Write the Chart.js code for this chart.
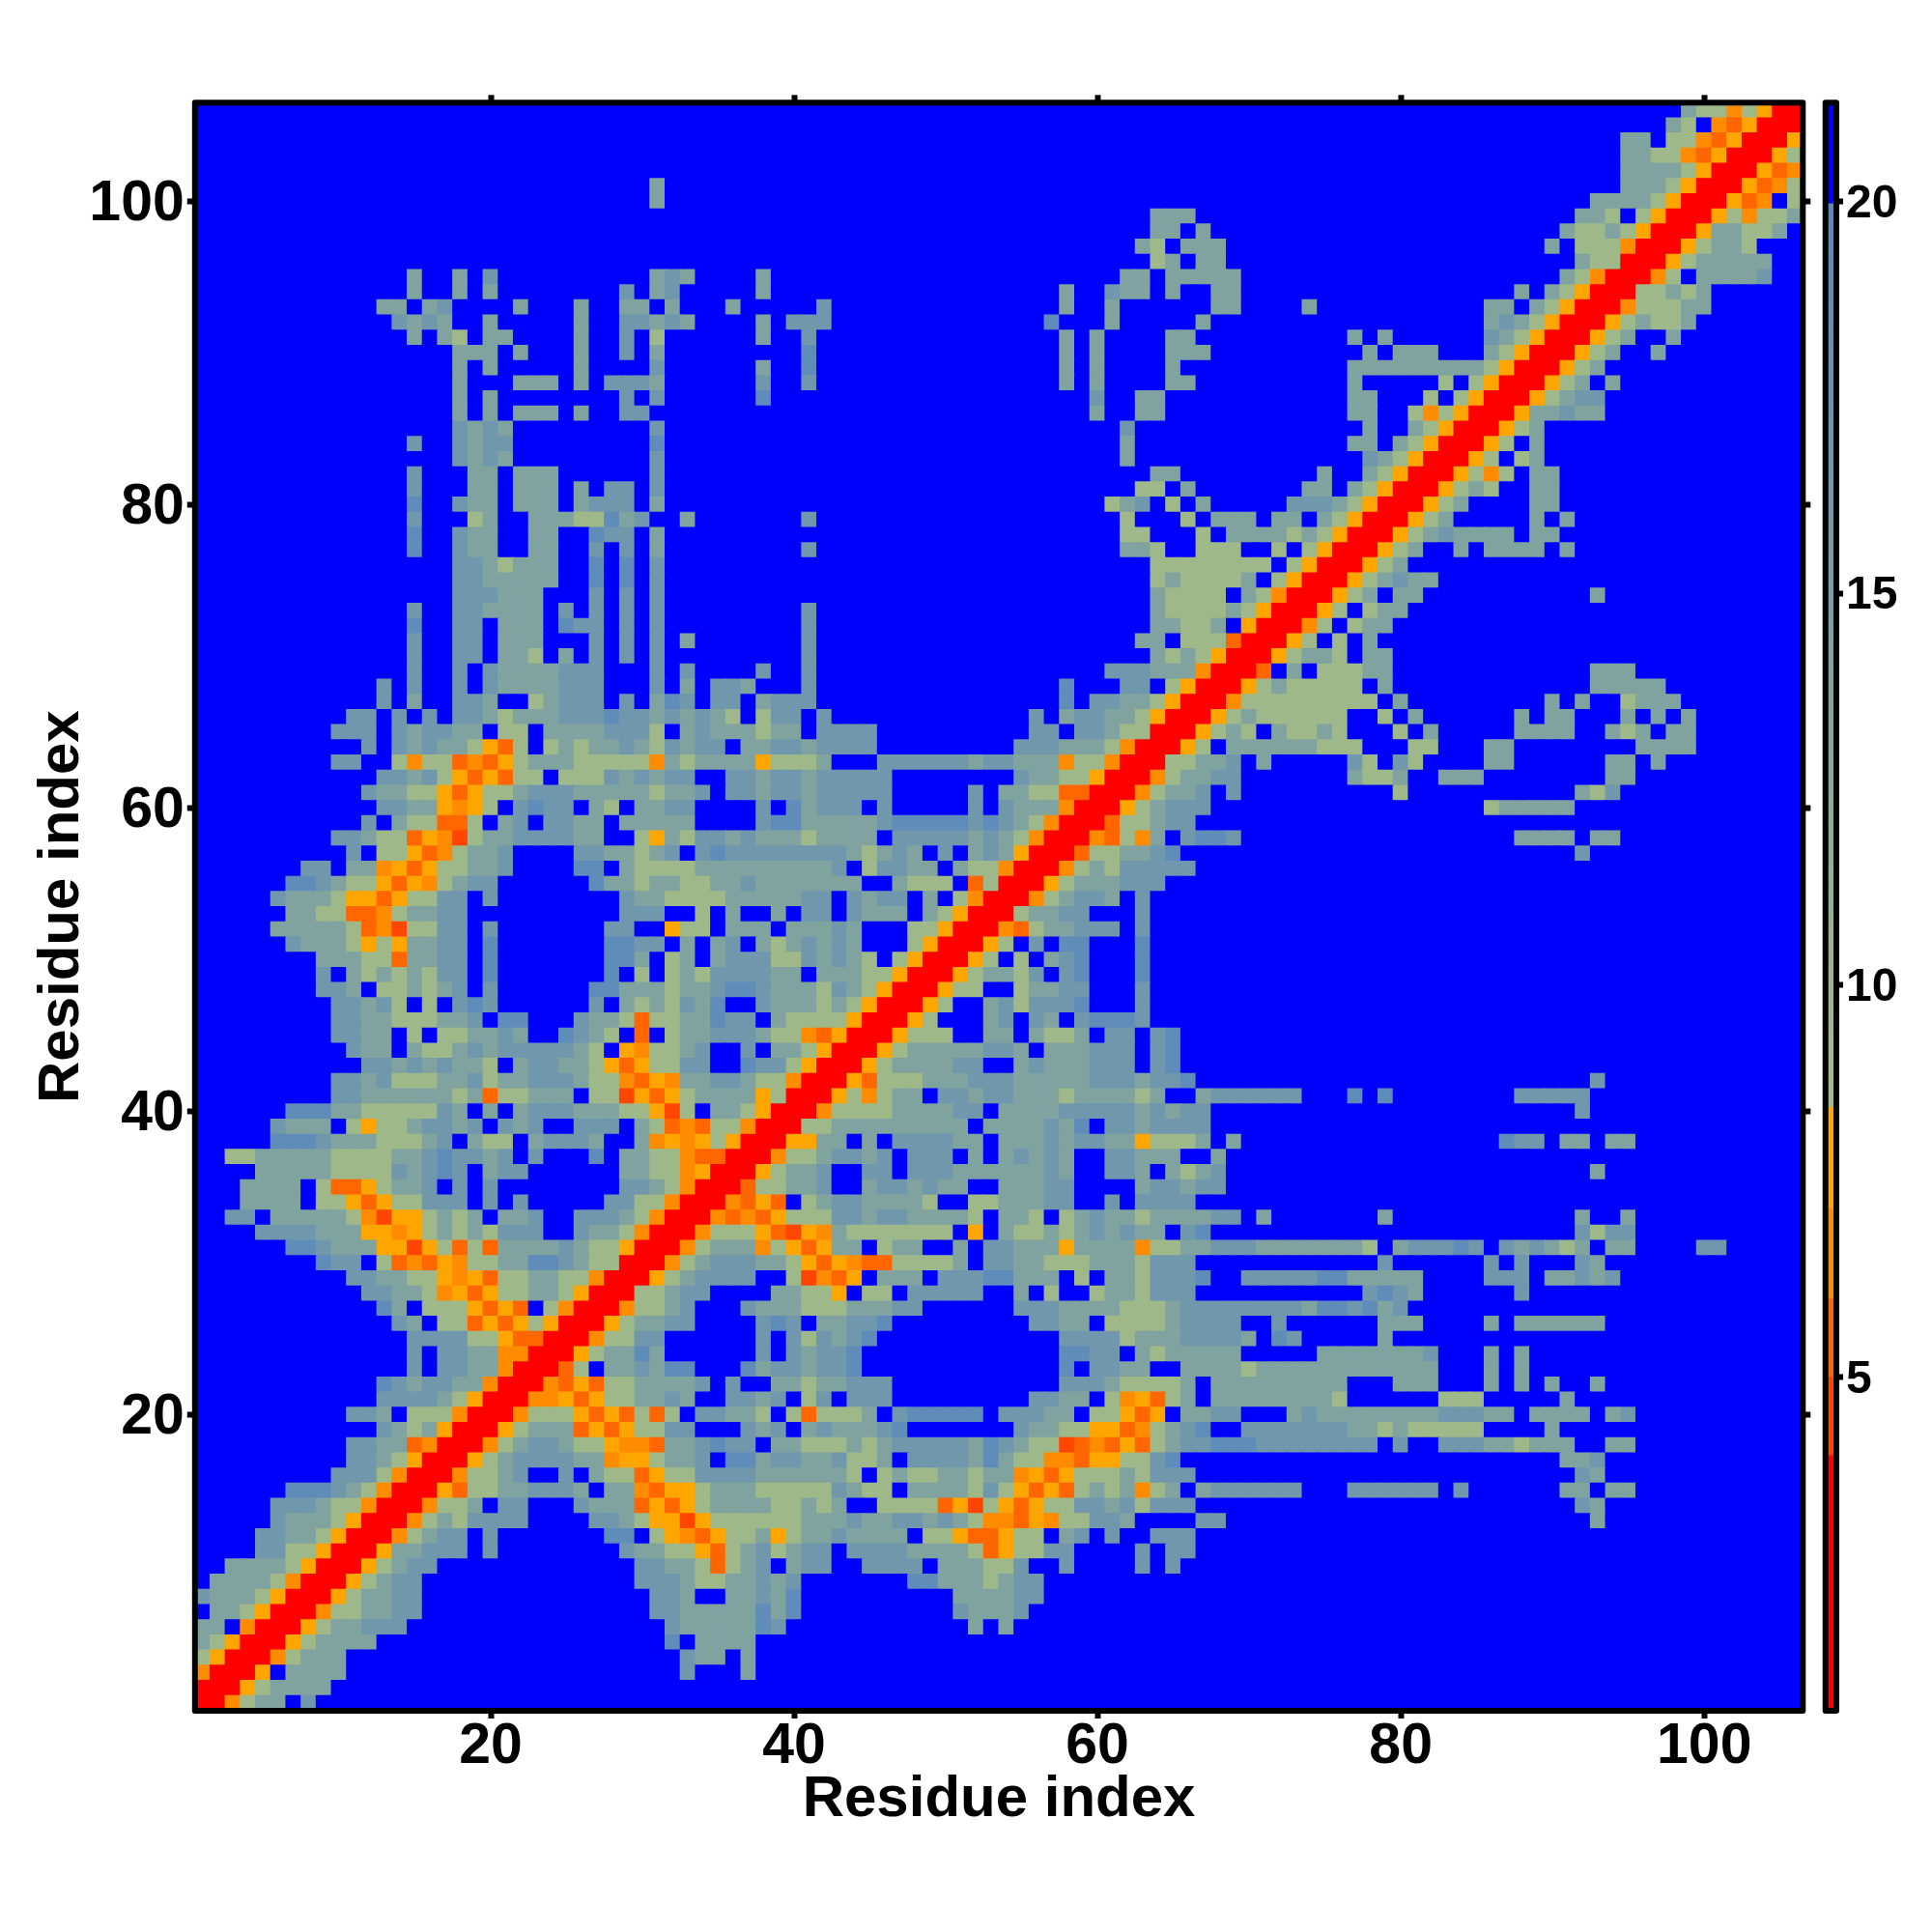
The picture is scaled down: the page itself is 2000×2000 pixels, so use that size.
<!DOCTYPE html>
<html>
<head>
<meta charset="utf-8">
<title>Residue distance map</title>
<script src="https://cdn.jsdelivr.net/npm/chart.js@4"></script>
<style>
html,body{margin:0;padding:0;background:#fff}
#wrap{position:relative;width:2000px;height:2000px}
canvas{position:absolute;left:0;top:0}
</style>
</head>
<body>
<div id="wrap"><canvas id="map" width="2000" height="2000"></canvas><canvas id="bar" width="2000" height="2000"></canvas></div>
<script>
// Each line is one row of the map, from residue 106 (top) down to residue 1.
// "31hg" = starting at residue 31: a cell of class h, then a cell of class g. Unlisted cells are class "n".
const rowCodes = [
"99hssdsorr",
"98hs 101deorrr",
"95hh 98ssdeorrro",
"95hhssdeorrros",
"95hhhhsorrroed",
"31h 95hhhsorrroeds",
"31h 93hhhhsorrroed 106s",
"64hhh 92hhs 96sorrrosdssh",
"64hh 67h 91hsshsorrrohhssh",
"63hs 66hhh 90h 92sssdrrroshhs",
"64sh 67hh 92hssrrroshhhhh",
"15h 18h 20g 31hgh 38h 62hh 65hhhhh 91hsdrrrds 100hhhhg",
"15h 18h 20h 29g 31hg 38h 58h 61ghh 65h 68hh 88h 90hsorrrsshsh",
"13hh 16hg 22h 26h 29hh 32h 36h 42g 58h 61h 68hh 74h 86hh 89hsorrrdssshh",
"14ghgh 20h 26h 29gghgh 38h 40ggg 57b 61h 67h 86hghsorrroshssh",
"15h 17hs 20hh 26h 29g 31s 38h 41g 58h 60h 65hh 77h 79h 86ghsorrrosh 98h",
"18hhh 22h 26h 29g 31h 41b 58h 60h 65hhh 78h 80hhh 86hsorrrosh 97h",
"18h 20h 26h 31g 38h 41b 58h 60h 65h 77hhhhhhhhhsorrrosh",
"18h 22hhh 26h 28ggg 31h 38g 41g 58h 60h 65hh 77h 83s 85sorrrosh 94h",
"18h 20h 29g 31g 38b 60g 63hh 77hh 82s 84sorrroshgg",
"18h 20h 22hhh 26h 29gg 60h 63hh 77hh 81sdsorrrohhghh",
"18ghgh 31g 62g 78h 81hsorrrosh",
"15g 18ghgg 31b 62h 77hh 80hsorrros 89h",
"18ghgh 31g 62h 78ghsorrros 88sh",
"15g 19hh 22hhh 31g 64hh 75h 78hsorrrosds 89hh",
"15g 19hh 22hhh 26h 28gg 31g 63ss 66h 74hh 77hsorrroshs 89hh",
"15b 18ghh 22hhh 26hggg 31h 61shg 65s 67h 73ggghsorrrosh 89hh",
"15g 19sh 23hhhssbhg 33h 41g 62s 66s 68hhh 72hh 75hsorrrosh 89h 91h",
"15b 18ghh 23hh 27bgg 31h 62ss 67s 69hhhhshsorrroshghhhh 89hh",
"15b 18ghh 23hh 27g 29g 31h 41g 62hhs 67sss 72s 74sorrrosh 84h 86hhhh 91h",
"18gghshhh 27b 29b 31g 64ssssssss 73sorrrosh",
"18gghhhhh 27b 29b 31g 64shssssh 72sorrroshghh",
"18ggghhh 27g 29g 31g 64hssss 70hsdrrrosh 80hh 93h",
"15g 18gghhhh 25g 27g 29g 31g 41g 64hsssshsorrros 78shh",
"15b 18gg 21hhh 25bgg 29g 31g 41g 64hhssh 70orrrds 77shh",
"15g 18gg 21hhh 27g 29g 31g 33h 41g 63hh 66ssserrros 76s 78h",
"15g 18gg 21hhs 25h 27g 29g 31g 41g 64hshsorrroshhs 78hh",
"15g 18g 20ghhhhggg 31g 33g 38g 41g 61ggghhhdrrre 73h 75ssshh 93hhh",
"13g 15g 18g 20ghhhhggg 31g 33h 35ggh 41g 58b 62gg 65sorrroshsssss 79h 93hhhhh",
"13g 15h 18ggh 23shggg 29g 31hbg 35gg 38hggg 58b 60gghhsorrrdsssssssss 80h 90h 92h 95shhh",
"11gg 14g 16g 18gghshhhgggbgghghghs 38sgg 42g 56g 58hgghhsorrroshssssss 79s 81h 88h 90hh 95h 97h 99h",
"10ggg 14ghgg 18hh 21ss 24hhhhgggs 33hghhhshh 42gggg 56gg 59gghssrrroshs 72hsshs 80s 82h 88hhhh 94hsh 98hh",
"12g 14ghghhsoes 24shshhghsghgg 37hhgghgggg 55ggghhhsdrrros 69hhhhhhsss 81ss 86hh 96hhhh",
"10gg 14sdssedeoshhhsssssdhshhhhosssh 46gggggghgghhhdssdrrrsshhg 71h 77gs 80gs 86hh 94hh 97h",
"13gghgsoeoess 25sssghghgg 36gghgghggggg 55ghhssorrrdshhgg 77hssh 83hhh 94hh",
"12ghhssoeosshggghhhhhshhg 36gghgghggggg 52g 54hhsseerrrdshhg 69g 80s 92hsg",
"13gghhodos 22gbgg 27hs 30hhgg 38g 40bhggg 46g 52g 54ghhhdrrroshggg 86shhhhh",
"12g 14hssees 21hg 24gg 26hh 29hhh 32hh 38gbbhhhhhgbbbbbgbghsdrrresshgg",
"10gghsseodfshhgggghh 30sohsgghghhhshhhh 47ggggghghsdrrrdesdh 66gbbg 88hhhh 93hh",
"11g 13ssoedshhg 26gghhshg 34gb 36gggggggghshgh 50g 52hghorrresshhgb 92g",
"8gg 11hhdoeosshhg 26bb 29hsssshhhhhhhhhg 45sgghh 51hssdrrrdshsggggg",
"7bbghssoeodshgg 27bhhshhsshhghhhhhhh 47hsss 52esrrroshhhggg",
"6ghhhsooeossgg 20g 29ghhsssshhhhhgg 44ghgg 49h 51sdrrrdshggh 63g",
"7hhsseedshhgg 29ggg 34s 36h 39h 41gg 44ghhh 49hsorrrshhgg 63g",
"6hhhhhsedfssgg 20g 28gg 32oss 36hhh 40hhhgh 48ssorrrdeshhggg 63g",
"7ghhhsosohhgg 20b 28bbgg 33h 35hg 38hshghgh 48sorrros 56g 58bb 63b",
"9hhhssehhgg 20b 28bbh 32sh 35hgggssghghs 47sorrros 55s 57hgb 63b",
"9g 11hshshsgg 20b 28b 30s 32shsgggghh 42hhhssorrroshhsg 58gb 63b",
"9ggh 13sshshg 20g 27bbhhhshhgbbghhhsghsorrross 55shhgg 63g",
"10gghgs 16s 18gbg 27g 29hshsghb 38ghhhshsorrros 53hgsgggb 63g",
"10gghhssshhg 21bb 26ghhsesshhbgg 39hssssorrros 53hg 56gh 59gbbbg",
"10gghh 15s 17sshhgh 25bghs 30e 32shhggghssdeorrrosss 53hh 56hssh 61gg 64gb",
"11ghh 15hsshghggggghs 29odsshg 37g 39hhsorrroshhhhhggh 57hhhggg 64gb",
"12gghghghhs 22hgghhsoeossgg 37bggsorrroshhhhgg 55hghhhggg 64gb",
"10gghgssshhgshhggghssdeodhhgghssdrrroessshhhggghhhhhggghggb 93g",
"10gghhhhhhshesshhh 27ssfoeoshhhhosrrrosdshh 50gghgghhhshhhhsh 67hgggggg 77b 79b 88ggggg",
"7bbbhhsssssgh 20h 22hggghhhssofs 35hhsorrrdsssshhhhgg 54hhhhggggghghgg 92g",
"6ghhh 11sosshgghg 21ghg 26ggg 30hsedessdrrrsshhhhhhhhh 53hhhhghb 61gghgggg",
"6bbbghhhssshg 19hss 23hgggh 30hdodosorrroohh 45h 47gggghh 54hhhghgghhosssh 69h 87bgg 91hh 94hh",
"3sshhhhhsssshhgbgghg 23g 27b 29hhssdeerrrdsshgghg 48ggg 52h 54hghgh 61gghhh 68h",
"5hhhhhssssghgbg 20hgg 29hhssdorrroshhg 45gg 48ggghhhhhhgh 61ggh 65hshg 93h",
"4hhhh 9seeoshhg 18g 20g 29gghsdrrresshhg 45hgghghh 54hhhgg 63hgghgg",
"4hhhh 9ssoeossggg 20g 22g 28ggssdrrrdeoe 41shgghhhhs 52sshhhgg 61g 63gggg",
"3gg 6hhhhhsdfooshsh 21hhg 26ggghsdrrrdedeosssgghgghhhhs 54hhs 58shghhshhhhgg 71h 79h 92h 95h",
"5gggghhhoodoshshsggg 26ghhsdrrrdsssoefodhsssssss 52o 54hsshshghghh 66gb 92gsgg",
"7bbghhhoofosesehhhhghssorrrdshhhdsoeohh 46shh 51h 53gghhhohhhhdsshhggghhhhhhhs 80hgggbg 87ghghsh 94hh 100gg",
"9bgg 13sedeodsshhbbghssrrrdshggghhsoeodeessssh 53gghhssshhhsggg 79g 86g 88g 92gh",
"11gghhssodoesshhssdrrroshgggg 40sfdeo 46hhh 50gggbbhhh 59s 61hhsgggb 70gggggbbhhhhh 86ggg 90hhghg",
"12gghhsdoeosshhsorrrsshgg 39hhsso 45ss 48ggggg 55h 57s 60shhsggg 78gbgh 88g",
"13bh 16sssoeoe 24sdrrrdsshg 37ghhhssshhhgg 55ggghhhhssshgggggggghbbgbhg",
"14gh 17sseoeosorrroshhgg 38gbg 42hhggb 56gghh 61sssshgggg 72g 79hhh 86h 88hhhhhh",
"15ggggssoeerrrdssgg 38g 40gsghgb 58ggggshhhggggh 72bg 79h",
"15g 17gghhddrrroshhbh 38g 40ghggb 58bbgg 63hshhhhh 75hhhhhhhg 86h 88h",
"15g 17gghhdrrres 28hhghbb 37bhgghggb 58b 60gghh 66hhhhshhhhhhhhhhhh 86h 88h",
"13bghgghhdrrrdeoesshhhhg 36g 39hhshhggg 58ggghssssh 68hhhhhhhhh 80hhh 86h 88h 90h 93h",
"13gggghsorrrddoeosshhgh 36gghg 41sg 44ggg 56gghh 61sdoesh 68hhhhhhhhs 83sss 91h",
"11ggh 15sssdrrrdsssoeoeses 34gghhs 40sesssh 47gbbbbb 54ggghh 60ssoeo 66hhgg 73hghhhhhhhhggghh 89hhhh 94hg",
"13ghshorrroshhheoeossgg 37ghg 41hghhhgb 55ghhssooedshgb 70ggggggghhshsssss 90h",
"11gghhedrrrdshgghssoddehhgbgg 39hhssshshggggghbghssfedeoeshggbbbgggggggg 80g 83ggghhshhh 94hh",
"11gghsorrroshgggghhdooshhg 36bbhgghhgssh 48gggghbhssddeoossgb 91hhg",
"10gggsdrrrdsshg 25g 27hsseossgggghhhhhhs 46shsshhshhdoeossshsggg 92gh",
"7bbbghsdrrroesshhgggh 28hhdeooshhhsssssghss 48hhhhsgsoeoeshshdsh 67hgggggg 77gggggg 84g 91hh 94hh",
"6ggghssdrrrdssh 21gg 26ghhheoeoshhhhsshsh 46sssseofsoeossgghgsggg 92gh",
"6ghhhsorrrdshsgggg 27gghsoofosssssshhhghhgghghsddeodss 60ggh 67gg 93h",
"5gghhsorrrdshgg 20g 28bb 31sodeosshoshhghhhh 49ssoeeoss 58hg 61g 64ggg",
"5ggssorrrohhggg 20g 29ghhssoeshgshgg 44gggghhhhseossgg 63g 65gg",
"3hhhhsorrroshgg 30gghhseshg 40hgg 45gggg 50hhhssg 58g 63g 65g",
"2hhhhsdrrroshgg 30ggghsshhghg 48bbhhhshgg",
"1ghhhsorrroshhgg 31ggh 36hhghb 51hhhhgg",
"2hhsorrrdsshhgg 31gghhhhhbhb 51ghhhg",
"1hh 4drrroshhggg 32ghhhhhbg 52h 54h",
"1hsorrroshhhh 32b 34hhhh",
"1sorrrdshhh 33ghh 37h",
"1drrro 7hhhh 33g 37h",
"1rrroshhhh",
"1rrdshh 8g"
];
// Distance (value) read for each cell class.
const classKeys   = ["n","b","g","h","s","o","d","e","f","r"];
const classValues = [22, 19, 16.5, 14, 9.5, 7.8, 6.6, 5.5, 4.6, 3];
const residueCount = 106;
const axisTicks = [20, 40, 60, 80, 100];
const barTicks = [5, 10, 15, 20];
const axisTitle = "Residue index";
const barMin = 0.74, barMax = 21.26;
const barEdges = [0.74, 4, 5, 6, 7.15, 8.44, 19.97, 21.26];
const barColors = ["#ff0000", "#ff4500", "#ff6600", "#ff8c00", "#ffa500", "ramp", "#0000ff"];

const FONT = '"Liberation Sans", Arial, sans-serif';
const STEEL = [90, 135, 191], SAGE = [165, 189, 132];
function rampColor(v) {
  const t = Math.min(1, Math.max(0, (20 - v) / 11.56));
  const c = STEEL.map((a, k) => Math.round(a + (SAGE[k] - a) * t));
  return `rgb(${c[0]},${c[1]},${c[2]})`;
}
function colorFor(v) {
  if (v >= 19.97) return "#0000ff";
  if (v >= 8.44) return rampColor(v);
  for (let k = 0; k < 5; k++) if (v < barEdges[k + 1]) return barColors[k];
  return "#ffa500";
}

function buildCells() {
  const cells = [];
  rowCodes.forEach((code, r) => {
    const y = residueCount - r;
    const line = new Array(residueCount + 1).fill("n");
    for (const m of code.matchAll(/(\d+)([a-z]+)/g)) {
      const start = +m[1];
      [...m[2]].forEach((c, k) => { if (start + k <= residueCount) line[start + k] = c; });
    }
    for (let x = 1; x <= residueCount; x++) {
      cells.push({ x, y, v: classValues[classKeys.indexOf(line[x])] });
    }
  });
  return cells;
}

const AREA = { left: 201.8, right: 1866.3, top: 106.3, bottom: 1771 };
const W = 2000, H = 2000;
const frame = {
  id: "frame",
  afterDatasetsDraw(chart) {
    const a = chart.chartArea, c = chart.ctx;
    c.save();
    c.strokeStyle = "#000";
    c.lineWidth = 6;
    c.lineJoin = "round";
    c.strokeRect(a.left, a.top, a.right - a.left, a.bottom - a.top);
    c.restore();
  }
};
const fixed = (prop, size) => s => { s[prop] = size; };
const tickBuilder = list => s => { s.ticks = list.map(value => ({ value })); };
const hiddenGrid = { drawOnChartArea: false, drawTicks: true, tickLength: 8, tickWidth: 6, color: "#000" };

new Chart(document.getElementById("map"), {
  type: "scatter",
  data: { datasets: [{
    data: buildCells(),
    xAxisID: "x", yAxisID: "y",
    pointStyle: "rect",
    pointRadius: ctx => Math.abs(ctx.chart.scales.x.getPixelForValue(1) - ctx.chart.scales.x.getPixelForValue(0)) * 0.76,
    pointBorderWidth: 0,
    pointBackgroundColor: ctx => ctx.raw ? colorFor(ctx.raw.v) : "#0000ff"
  }] },
  options: {
    responsive: false, animation: false, events: [],
    layout: { padding: 0 },
    plugins: { legend: { display: false }, tooltip: { enabled: false } },
    scales: {
      x: {
        type: "linear", position: "bottom", min: 0.5, max: 106.5,
        afterBuildTicks: tickBuilder(axisTicks), afterFit: fixed("height", H - AREA.bottom),
        grid: hiddenGrid, border: { display: false },
        ticks: { autoSkip: false, maxRotation: 0, minRotation: 0, color: "#000", padding: -6,
                 font: { family: FONT, weight: "bold", size: 59 } },
        title: { display: true, text: axisTitle, color: "#000", padding: { top: 0, bottom: 101 },
                 font: { family: FONT, weight: "bold", size: 60 } }
      },
      xTop: {
        type: "linear", position: "top", min: 0.5, max: 106.5,
        afterBuildTicks: tickBuilder(axisTicks), afterFit: fixed("height", AREA.top),
        grid: hiddenGrid, border: { display: false }, ticks: { display: false }
      },
      y: {
        type: "linear", position: "left", min: 0.5, max: 106.5,
        afterBuildTicks: tickBuilder(axisTicks), afterFit: fixed("width", AREA.left),
        grid: hiddenGrid, border: { display: false },
        ticks: { autoSkip: false, color: "#000", padding: 3, labelOffset: 3,
                 font: { family: FONT, weight: "bold", size: 59 } },
        title: { display: true, text: axisTitle, color: "#000", padding: { top: 28, bottom: 0 },
                 font: { family: FONT, weight: "bold", size: 60 } }
      },
      yRight: {
        type: "linear", position: "right", min: 0.5, max: 106.5,
        afterBuildTicks: tickBuilder(axisTicks), afterFit: fixed("width", W - AREA.right),
        grid: hiddenGrid, border: { display: false }, ticks: { display: false }
      }
    }
  },
  plugins: [frame]
});

// Colour bar: floating bars on its own value axis.
const BAR = { left: 1889.7, right: 1901 };
new Chart(document.getElementById("bar"), {
  type: "bar",
  data: {
    labels: [""],
    datasets: barColors.map((color, k) => ({
      xAxisID: "x", yAxisID: "y",
      data: [[barEdges[k], barEdges[k + 1]]],
      barPercentage: 1, categoryPercentage: 1, borderWidth: 0, borderSkipped: false, grouped: false,
      backgroundColor: ctx => {
        if (color !== "ramp") return color;
        const a = ctx.chart.chartArea;
        if (!a) return "#7fa0a0";
        const s = ctx.chart.scales.y;
        const g = ctx.chart.ctx.createLinearGradient(0, s.getPixelForValue(19.97), 0, s.getPixelForValue(8.44));
        g.addColorStop(0, rampColor(19.97));
        g.addColorStop(1, rampColor(8.44));
        return g;
      }
    }))
  },
  options: {
    responsive: false, animation: false, events: [],
    layout: { padding: 0 },
    plugins: { legend: { display: false }, tooltip: { enabled: false } },
    scales: {
      x: { type: "category", offset: true,
           afterFit: fixed("height", H - AREA.bottom),
           grid: { display: false }, border: { display: false }, ticks: { display: false } },
      xTopPad: { type: "linear", position: "top", display: true, min: 0, max: 1,
           afterFit: fixed("height", AREA.top),
           grid: { display: false }, border: { display: false }, ticks: { display: false } },
      yLeftPad: { type: "linear", position: "left", display: true, min: 0, max: 1,
           afterFit: fixed("width", BAR.left),
           grid: { display: false }, border: { display: false }, ticks: { display: false } },
      y: { type: "linear", position: "right", min: barMin, max: barMax,
           afterBuildTicks: tickBuilder(barTicks), afterFit: fixed("width", W - BAR.right),
           grid: { drawOnChartArea: false, drawTicks: true, tickLength: 7, tickWidth: 6, color: "#000" },
           border: { display: false },
           ticks: { autoSkip: false, color: "#000", padding: 3, labelOffset: 3,
                    font: { family: FONT, weight: "bold", size: 48 } } }
    }
  },
  plugins: [frame]
});
</script>
</body>
</html>
